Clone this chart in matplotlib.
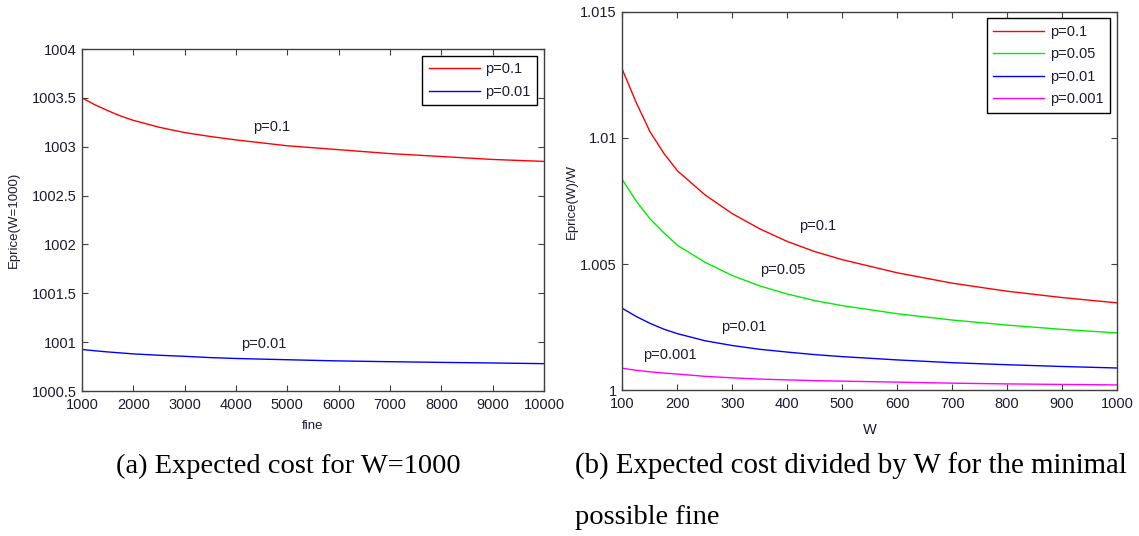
import matplotlib
matplotlib.use('Agg')
import matplotlib.pyplot as plt

# Left panel: expected price vs fine, W=1000
fine = [1000, 1250, 1500, 1750, 2000, 2500, 3000, 3500, 4000, 5000, 6000,
        7000, 8000, 9000, 10000]
left_p01 = [1003.50, 1003.43, 1003.37, 1003.315, 1003.27, 1003.20, 1003.145,
            1003.105, 1003.07, 1003.01, 1002.97, 1002.93, 1002.90, 1002.87, 1002.85]
left_p001 = [1000.925, 1000.912, 1000.90, 1000.89, 1000.88, 1000.866, 1000.855,
             1000.842, 1000.833, 1000.82, 1000.808, 1000.80, 1000.793, 1000.787, 1000.78]

# Right panel: expected price / W vs W
W = [100, 125, 150, 175, 200, 250, 300, 350, 400, 450, 500, 600, 700, 800, 900, 1000]
right_p1 = [1.01270, 1.01140, 1.01025, 1.00940, 1.00870, 1.00775, 1.00700,
            1.00640, 1.00590, 1.00550, 1.00518, 1.00466, 1.00425, 1.00393,
            1.00368, 1.00347]
right_p05 = [1.00834, 1.00750, 1.00680, 1.00625, 1.00575, 1.00508, 1.00455,
             1.00414, 1.00382, 1.00356, 1.00336, 1.00304, 1.00279, 1.00259,
             1.00242, 1.00228]
right_p01 = [1.00325, 1.00293, 1.00266, 1.00243, 1.00225, 1.00197, 1.00178,
             1.00163, 1.00152, 1.00142, 1.00134, 1.00121, 1.00110, 1.00102,
             1.00095, 1.00089]
right_p001 = [1.00088, 1.00080, 1.00074, 1.00069, 1.00065, 1.00056, 1.00050,
              1.00045, 1.00042, 1.00039, 1.00037, 1.00033, 1.00029, 1.00026,
              1.00024, 1.00022]

plt.rcParams['font.family'] = ['Liberation Sans', 'DejaVu Sans']
txt_col = '#1c1c30'
ax_col = '#404040'


def style_axes(ax):
    for s in ax.spines.values():
        s.set_color(ax_col)
        s.set_linewidth(1.0)
    ax.tick_params(direction='in', top=True, right=True, length=4,
                   color=ax_col, labelsize=10.5, labelcolor=txt_col)
    ax.tick_params(axis='x', pad=5)
    ax.tick_params(axis='y', pad=4)


def add_legend(ax):
    leg = ax.legend(loc='upper right', fontsize=10.5, fancybox=False, framealpha=1,
                    edgecolor='black', handlelength=3.5, handletextpad=0.4,
                    borderaxespad=0.45, labelspacing=0.58, borderpad=0.45)
    leg.get_frame().set_linewidth(1.0)
    for t in leg.get_texts():
        t.set_color(txt_col)
    return leg


fig = plt.figure(figsize=(11.39, 5.36), dpi=100)

# (a)
ax1 = fig.add_axes([0.072, 0.2705, 0.4056, 0.638])
ax1.plot(fine, left_p01, color='#ff0000', lw=1.0, label='p=0.1')
ax1.plot(fine, left_p001, color='#0000ff', lw=1.0, label='p=0.01')
ax1.set_xlim(1000, 10000)
ax1.set_ylim(1000.5, 1004)
ax1.set_xticks(range(1000, 10001, 1000))
ax1.set_yticks([1000.5, 1001, 1001.5, 1002, 1002.5, 1003, 1003.5, 1004])
ax1.set_yticklabels(['1000.5', '1001', '1001.5', '1002', '1002.5', '1003', '1003.5', '1004'])
style_axes(ax1)
ax1.set_xlabel('fine', fontsize=9.5, color=txt_col)
ax1.xaxis.set_label_coords(0.5, -0.085)
ax1.set_ylabel('Eprice(W=1000)', fontsize=9.5, color=txt_col)
ax1.yaxis.set_label_coords(-0.135, 0.5)
ax1.text(4700, 1003.2, 'p=0.1', fontsize=10.5, color=txt_col, ha='center', va='center')
ax1.text(4550, 1000.98, 'p=0.01', fontsize=10.5, color=txt_col, ha='center', va='center')
add_legend(ax1)

# (b)
ax2 = fig.add_axes([0.5465, 0.2715, 0.4342, 0.7067])
ax2.plot(W, right_p1, color='#ff0000', lw=1.0, label='p=0.1')
ax2.plot(W, right_p05, color='#00ee00', lw=1.0, label='p=0.05')
ax2.plot(W, right_p01, color='#0000ff', lw=1.0, label='p=0.01')
ax2.plot(W, right_p001, color='#ff00ff', lw=1.0, label='p=0.001')
ax2.set_xlim(100, 1000)
ax2.set_ylim(1.0, 1.015)
ax2.set_xticks(range(100, 1001, 100))
ax2.set_yticks([1.0, 1.005, 1.01, 1.015])
ax2.set_yticklabels(['1', '1.005', '1.01', '1.015'])
style_axes(ax2)
ax2.set_xlabel('W', fontsize=10.5, color=txt_col)
ax2.xaxis.set_label_coords(0.5, -0.085)
ax2.set_ylabel('Eprice(W)/W', fontsize=9.5, color=txt_col)
ax2.yaxis.set_label_coords(-0.09, 0.5)
ax2.text(455, 1.0065, 'p=0.1', fontsize=10.5, color=txt_col, ha='center', va='center')
ax2.text(392, 1.00479, 'p=0.05', fontsize=10.5, color=txt_col, ha='center', va='center')
ax2.text(320, 1.00252, 'p=0.01', fontsize=10.5, color=txt_col, ha='center', va='center')
ax2.text(187, 1.0014, 'p=0.001', fontsize=10.5, color=txt_col, ha='center', va='center')
add_legend(ax2)

# captions
cap = dict(family=['Liberation Serif', 'DejaVu Serif'], fontsize=20.5, color='black')
fig.text(288 / 1139, 1 - 466 / 536, '(a) Expected cost for W=1000', ha='center', va='center', **cap)
fig.text(575 / 1139, 1 - 466 / 536, '(b) Expected cost divided by W for the minimal',
         ha='left', va='center', fontsize=20.8,
         family=['Liberation Serif', 'DejaVu Serif'], color='black')
fig.text(575 / 1139, 1 - 517 / 536, 'possible fine', ha='left', va='center', **cap)

fig.savefig('out.png', dpi=100)
